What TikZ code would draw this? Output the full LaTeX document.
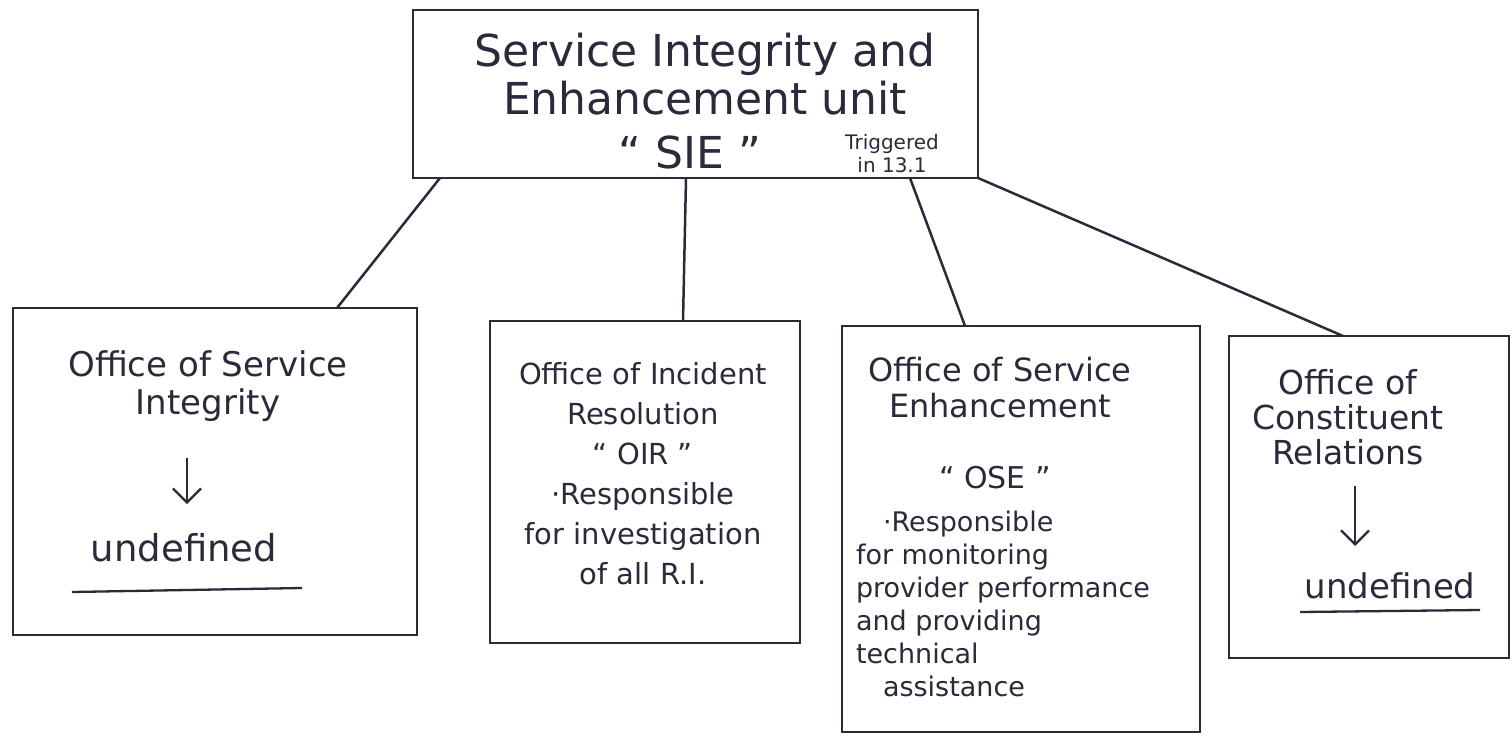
\documentclass[tikz,border=0pt]{standalone}
\usepackage{fontspec}
\setmainfont{DejaVu Sans}
\usetikzlibrary{arrows.meta,calc}
\definecolor{ink}{RGB}{42,42,58}
\begin{document}
\begin{tikzpicture}[x=1pt,y=-1pt,
  every node/.style={text=ink, inner sep=0pt, outer sep=0pt},
  unitbox/.style={draw=ink, line width=2.8pt, rectangle},
  link/.style={draw=ink, line width=2.5pt},
  pointer/.style={draw=ink, line width=2.3pt, -{Straight Barb[length=14pt,width=28pt,line width=2.3pt]}},
  rule/.style={draw=ink, line width=2.3pt},
  big/.style={font=\fontsize{44}{48}\selectfont, align=center},
  mid/.style={font=\fontsize{34}{38}\selectfont, align=center},
  small/.style={font=\fontsize{29}{40}\selectfont, align=center},
  tiny/.style={font=\fontsize{20}{23}\selectfont, align=center}]
\useasboundingbox (0,0) rectangle (1512,742);

% boxes
\node[unitbox, minimum width=565, minimum height=168] (sie) at (695.5,94) {};
\node[unitbox, minimum width=404, minimum height=327] (osi) at (215,471.5) {};
\node[unitbox, minimum width=310, minimum height=322] (oir) at (645,482) {};
\node[unitbox, minimum width=358, minimum height=406] (ose) at (1021,529) {};
\node[unitbox, minimum width=280, minimum height=322] (ocr) at (1369,497) {};

% top unit
\node[big] (sietitle) at (705,74) {Service Integrity and\\Enhancement unit};
\node[big] (sieabbr) at (690,152) {“ SIE ”};
\node[tiny] (sienote) at (892,154) {Triggered\\in 13.1};

% Office of Service Integrity
\node[mid] (osititle) at (208,386) {Office of Service\\Integrity};
\node[font=\fontsize{37}{40}\selectfont] (osiund) at (184,548) {undefined};
\coordinate (osiarrA) at (187,458);
\coordinate (osiarrB) at (187,504);
\draw[pointer] (osiarrA) -- (osiarrB);
\coordinate (osiulA) at (72,592);
\coordinate (osiulB) at (302,588);
\draw[rule] (osiulA) -- (osiulB);

% Office of Incident Resolution
\node[small] (oirtext) at (643,474) {Office of Incident\\Resolution\\“ OIR ”\\·Responsible\\for investigation\\of all R.I.};

% Office of Service Enhancement
\node[font=\fontsize{32}{36}\selectfont, align=center] (osetitle) at (1000,388) {Office of Service\\Enhancement};
\node[font=\fontsize{30}{34}\selectfont] (oseabbr) at (995,478) {“ OSE ”};
\node[font=\fontsize{27}{33}\selectfont, align=left, anchor=west] (osetext) at (856,604)
  {\quad ·Responsible\\for monitoring\\provider performance\\and providing\\technical\\\quad assistance};

% Office of Constituent Relations
\node[font=\fontsize{33}{35}\selectfont, align=center] (ocrtitle) at (1348,417) {Office of\\Constituent\\Relations};
\node[mid] (ocrund) at (1390,586) {undefined};
\coordinate (ocrarrA) at (1355,486);
\coordinate (ocrarrB) at (1355,546);
\draw[pointer] (ocrarrA) -- (ocrarrB);
\coordinate (ocrulA) at (1300,612);
\coordinate (ocrulB) at (1480,610);
\draw[rule] (ocrulA) -- (ocrulB);

% links from the unit to its offices
\draw[link] ([xshift=27]sie.south west) -- ([xshift=324]osi.north west);
\draw[link] ([xshift=273]sie.south west) -- ([xshift=193]oir.north west);
\draw[link] ([xshift=497]sie.south west) -- ([xshift=123]ose.north west);
\draw[link] (sie.south east) -- ([xshift=114]ocr.north west);
\end{tikzpicture}
\end{document}
